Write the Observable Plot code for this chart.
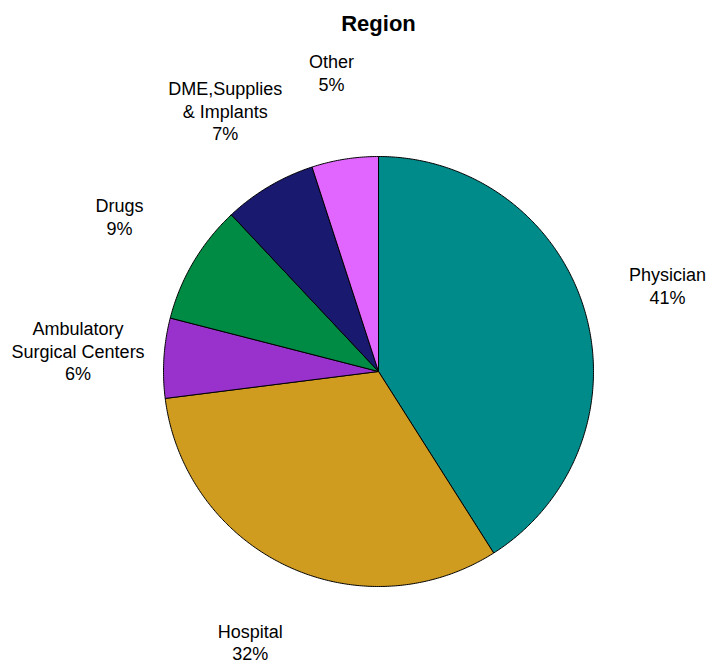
<!DOCTYPE html>
<html>
<head>
<meta charset="utf-8">
<script src="https://cdn.jsdelivr.net/npm/d3@7"></script>
<script src="https://cdn.jsdelivr.net/npm/@observablehq/plot@0.6"></script>
<style>
  html, body { margin: 0; padding: 0; background: #fff; }
  #chart svg { display: block; }
</style>
</head>
<body>
<div id="chart"></div>
<script>
// Data
const categories = ["Physician", "Hospital", "Ambulatory\nSurgical Centers", "Drugs", "DME,Supplies\n& Implants", "Other"];
const shares = [41, 32, 6, 9, 7, 5];
const colors = ["#008B8B", "#D09C20", "#9932CC", "#008B45", "#191970", "#E066FF"];
const chartTitle = "Region";

// Build slices using d3.pie (clockwise from 12 o'clock)
const rows = categories.map((c, i) => ({name: c, value: shares[i], color: colors[i]}));
const arcs = d3.pie().sort(null).value(d => d.value)(rows);

const slicePts = [];
arcs.forEach(a => {
  const n = Math.max(2, Math.ceil((a.endAngle - a.startAngle) / (Math.PI / 360)));
  slicePts.push({name: a.data.name, color: a.data.color, x: 0, y: 0});
  for (let k = 0; k <= n; k++) {
    const t = a.startAngle + (a.endAngle - a.startAngle) * k / n;
    slicePts.push({name: a.data.name, color: a.data.color, x: Math.sin(t), y: Math.cos(t)});
  }
  slicePts.push({name: a.data.name, color: a.data.color, x: 0, y: 0});
});

const labelR = 1.40;
const labels = arcs.map(a => {
  const m = (a.startAngle + a.endAngle) / 2;
  return {text: `${a.data.name}\n${a.data.value}%`, x: labelR * Math.sin(m), y: labelR * Math.cos(m)};
});

const W = 711, H = 664, R = 215, CX = 378, CY = 371;
const chart = Plot.plot({
  width: W,
  height: H,
  margin: 0,
  style: {fontFamily: "'Liberation Sans', Arial, sans-serif", background: "#fff"},
  x: {domain: [-CX / R, (W - CX) / R], axis: null},
  y: {domain: [(CY - H) / R, CY / R], axis: null},
  marks: [
    Plot.line(slicePts, {x: "x", y: "y", z: "name", fill: "color", stroke: "#000", strokeWidth: 1, curve: "linear", strokeLinejoin: "round"}),
    Plot.text(labels, {x: "x", y: "y", text: "text", fontSize: 18, lineHeight: 1.25, dy: -2, fill: "#000", textAnchor: "middle"}),
    Plot.text([chartTitle], {frameAnchor: "top", dx: CX - W / 2, dy: 15, lineAnchor: "top", fontSize: 22, fontWeight: "bold", fill: "#000"})
  ]
});
document.getElementById("chart").appendChild(chart);
</script>
</body>
</html>
